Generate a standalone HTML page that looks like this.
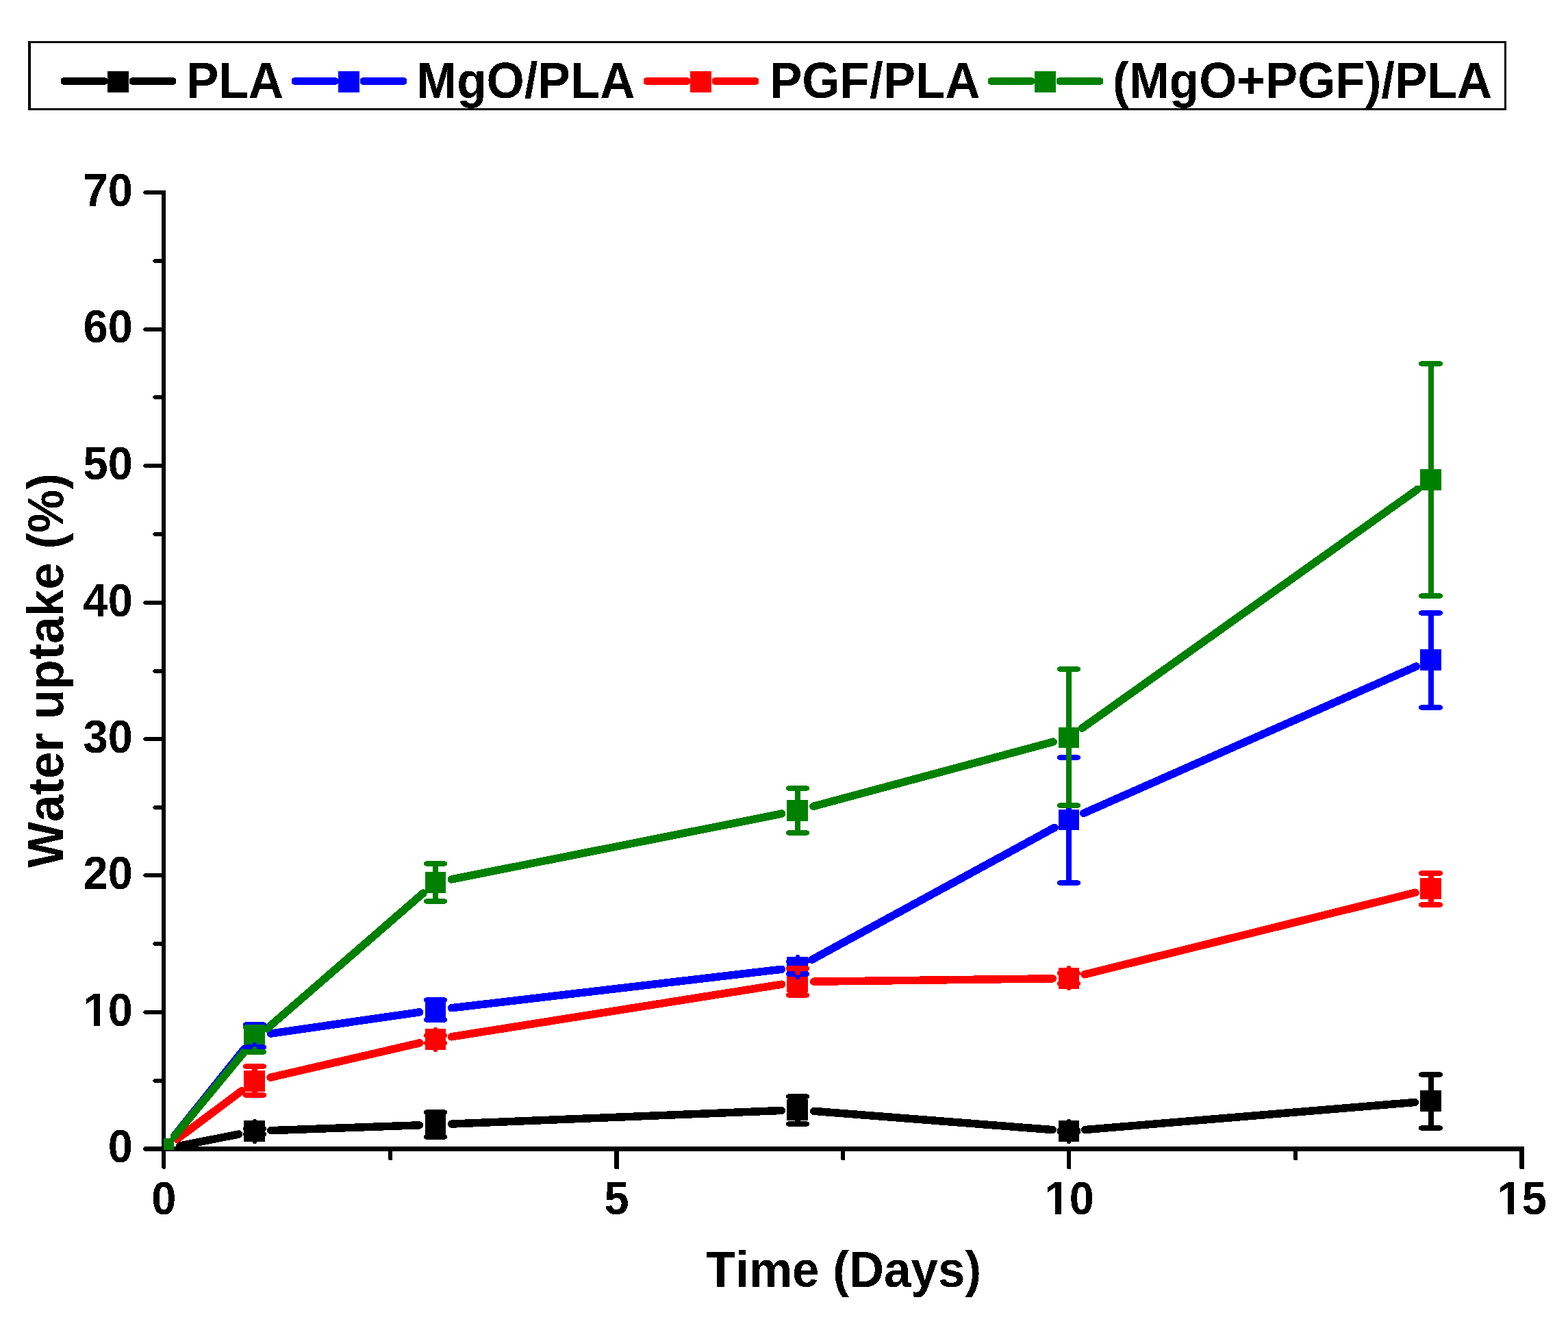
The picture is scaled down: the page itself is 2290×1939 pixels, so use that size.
<!DOCTYPE html>
<html lang="en"><head><meta charset="utf-8"><title>Water uptake (%) vs Time (Days)</title>
<style>html,body{margin:0;padding:0;background:#fff}body{width:2290px;height:1939px;overflow:hidden}svg{display:block}text{font-family:"Liberation Sans",Arial,Helvetica,sans-serif;font-weight:bold;fill:#000;font-kerning:none;font-variant-ligatures:none}</style></head><body>
<svg width="2290" height="1939" viewBox="0 0 2290 1939" shape-rendering="crispEdges">
<rect width="2290" height="1939" fill="#fff"/>
<defs><clipPath id="plot"><rect x="239" y="0" width="2051" height="1679"/></clipPath><filter id="crisp" x="0" y="0" width="2290" height="1939" filterUnits="userSpaceOnUse" color-interpolation-filters="sRGB"><feComponentTransfer><feFuncA type="discrete" tableValues="0 1"/></feComponentTransfer></filter></defs>
<g fill="#000">
<rect x="236" y="278" width="6" height="1410"/>
<path d="M230 1674 H2225 L2226 1675 V1681 H230 Z"/>
<path d="M211 278 H239 V284 H211 L209 282 V280 Z"/>
<path d="M225 378 H239 V384 H225 L223 382 V380 Z"/>
<path d="M211 478 H239 V484 H211 L209 482 V480 Z"/>
<path d="M225 577 H239 V583 H225 L223 581 V579 Z"/>
<path d="M211 677 H239 V683 H211 L209 681 V679 Z"/>
<path d="M225 777 H239 V783 H225 L223 781 V779 Z"/>
<path d="M211 877 H239 V883 H211 L209 881 V879 Z"/>
<path d="M225 977 H239 V983 H225 L223 981 V979 Z"/>
<path d="M211 1076 H239 V1082 H211 L209 1080 V1078 Z"/>
<path d="M225 1176 H239 V1182 H225 L223 1180 V1178 Z"/>
<path d="M211 1275 H239 V1281 H211 L209 1279 V1277 Z"/>
<path d="M225 1375 H239 V1381 H225 L223 1379 V1377 Z"/>
<path d="M211 1475 H239 V1481 H211 L209 1479 V1477 Z"/>
<path d="M225 1575 H239 V1581 H225 L223 1579 V1577 Z"/>
<path d="M211 1674 H239 V1681 H211 L209 1679 V1676 Z"/>
<path d="M236 1680 V1705 L238 1707 H240 L242 1705 V1680 Z"/>
<path d="M567 1676 V1693 L568 1694 H572 L573 1693 V1676 Z"/>
<path d="M897 1676 V1706 L898 1707 H903 L904 1706 V1676 Z"/>
<path d="M1228 1676 V1693 L1229 1694 H1233 L1234 1693 V1676 Z"/>
<path d="M1558 1676 V1706 L1559 1707 H1563 L1564 1706 V1676 Z"/>
<path d="M1889 1676 V1693 L1890 1694 H1894 L1895 1693 V1676 Z"/>
<path d="M2219 1676 V1706 L2220 1707 H2225 L2226 1706 V1676 Z"/>
</g>
<g clip-path="url(#plot)">
<g stroke="#000000" stroke-width="11.5" stroke-linecap="round" fill="none">
<line x1="262.81" y1="1672.93" x2="348.69" y2="1656.07"/>
<line x1="395.73" y1="1650.65" x2="612.27" y2="1642.85"/>
<line x1="659.73" y1="1641.04" x2="1141.27" y2="1621.46"/>
<line x1="1188.68" y1="1622.35" x2="1537.32" y2="1649.65"/>
<line x1="1584.67" y1="1649.53" x2="2066.33" y2="1609.47"/>
</g>
<g fill="#000000">
<rect x="356" y="1636" width="31" height="31"/>
<rect x="621" y="1627" width="30" height="30"/>
<rect x="1149" y="1605" width="31" height="31"/>
<rect x="1546" y="1636" width="30" height="31"/>
<rect x="2074" y="1592" width="31" height="31"/>
</g>
<g stroke="#0000ff" stroke-width="11.5" stroke-linecap="round" fill="none">
<line x1="254.37" y1="1658.98" x2="357.13" y2="1531.02"/>
<line x1="395.51" y1="1509.12" x2="612.49" y2="1477.88"/>
<line x1="659.59" y1="1471.74" x2="1141.41" y2="1415.26"/>
<line x1="1185.86" y1="1401.15" x2="1540.14" y2="1208.35"/>
<line x1="1582.73" y1="1187.41" x2="2068.27" y2="973.09"/>
</g>
<g fill="#0000ff">
<rect x="356" y="1497" width="31" height="31"/>
<rect x="621" y="1459" width="30" height="31"/>
<rect x="1149" y="1397" width="31" height="31"/>
<rect x="1546" y="1182" width="30" height="30"/>
<rect x="2074" y="948" width="31" height="31"/>
</g>
<g stroke="#ff0000" stroke-width="11.5" stroke-linecap="round" fill="none">
<line x1="258.53" y1="1663.28" x2="352.97" y2="1592.72"/>
<line x1="395.14" y1="1573.15" x2="612.86" y2="1522.85"/>
<line x1="659.46" y1="1513.78" x2="1141.54" y2="1437.22"/>
<line x1="1188.75" y1="1433.2" x2="1537.25" y2="1428.8"/>
<line x1="1584.05" y1="1422.79" x2="2066.95" y2="1303.21"/>
</g>
<g fill="#ff0000">
<rect x="356" y="1563" width="31" height="31"/>
<rect x="621" y="1502" width="30" height="31"/>
<rect x="1149" y="1418" width="31" height="31"/>
<rect x="1546" y="1413" width="30" height="31"/>
<rect x="2074" y="1282" width="31" height="31"/>
</g>
<g stroke="#008000" stroke-width="11.5" stroke-linecap="round" fill="none">
<line x1="254.65" y1="1659.21" x2="356.85" y2="1535.79"/>
<line x1="389.94" y1="1501.94" x2="618.06" y2="1304.06"/>
<line x1="659.3" y1="1283.88" x2="1141.7" y2="1188.12"/>
<line x1="1187.94" y1="1177.33" x2="1538.06" y2="1083.17"/>
<line x1="1580.35" y1="1063.23" x2="2070.65" y2="714.27"/>
</g>
<g fill="#008000">
<rect x="223" y="1662" width="31" height="31"/>
<rect x="356" y="1502" width="31" height="31"/>
<rect x="621" y="1273" width="30" height="31"/>
<rect x="1149" y="1168" width="31" height="31"/>
<rect x="1546" y="1062" width="30" height="30"/>
<rect x="2074" y="685" width="31" height="31"/>
</g>
<g fill="#000000">
<path d="M368 1637V1649H369V1651H370V1652H374V1651H375V1649H376V1637H375V1635H374V1634H370V1635H369V1637Z"/>
<path d="M368 1655V1667H369V1669H370V1670H374V1669H375V1667H376V1655H375V1653H374V1652H370V1653H369V1655Z"/>
<path d="M358 1644H386V1645H388V1646H389V1650H388V1651H386V1652H358V1651H356V1650H355V1646H356V1645H358Z"/>
<path d="M358 1652H386V1653H388V1654H389V1658H388V1659H386V1660H358V1659H356V1658H355V1654H356V1653H358Z"/>
<path d="M632 1623V1629H633V1631H634V1632H638V1631H639V1629H640V1623H639V1621H638V1620H634V1621H633V1623Z"/>
<path d="M632 1655V1661H633V1663H634V1664H638V1663H639V1661H640V1655H639V1653H638V1652H634V1653H633V1655Z"/>
<path d="M622 1620H650V1621H652V1622H653V1626H652V1627H650V1628H622V1627H620V1626H619V1622H620V1621H622Z"/>
<path d="M622 1656H650V1657H652V1658H653V1662H652V1663H650V1664H622V1663H620V1662H619V1658H620V1657H622Z"/>
<path d="M1161 1600V1607H1162V1609H1163V1610H1167V1609H1168V1607H1169V1600H1168V1598H1167V1597H1163V1598H1162V1600Z"/>
<path d="M1161 1633V1642H1162V1644H1163V1645H1167V1644H1168V1642H1169V1633H1168V1631H1167V1630H1163V1631H1162V1633Z"/>
<path d="M1151 1597H1179V1598H1181V1599H1182V1603H1181V1604H1179V1605H1151V1604H1149V1603H1148V1599H1149V1598H1151Z"/>
<path d="M1151 1637H1179V1638H1181V1639H1182V1643H1181V1644H1179V1645H1151V1644H1149V1643H1148V1639H1149V1638H1151Z"/>
<path d="M1557 1637V1651H1558V1653H1559V1654H1563V1653H1564V1651H1565V1637H1564V1635H1563V1634H1559V1635H1558V1637Z"/>
<path d="M1557 1652V1667H1558V1669H1559V1670H1563V1669H1564V1667H1565V1652H1564V1650H1563V1649H1559V1650H1558V1652Z"/>
<path d="M1547 1646H1575V1647H1577V1648H1578V1652H1577V1653H1575V1654H1547V1653H1545V1652H1544V1648H1545V1647H1547Z"/>
<path d="M1547 1649H1575V1650H1577V1651H1578V1655H1577V1656H1575V1657H1547V1656H1545V1655H1544V1651H1545V1650H1547Z"/>
<path d="M2086 1568V1595H2087V1597H2088V1598H2092V1597H2093V1595H2094V1568H2093V1566H2092V1565H2088V1566H2087V1568Z"/>
<path d="M2086 1621V1648H2087V1650H2088V1651H2092V1650H2093V1648H2094V1621H2093V1619H2092V1618H2088V1619H2087V1621Z"/>
<path d="M2075 1565H2104V1566H2106V1567H2107V1571H2106V1572H2104V1573H2075V1572H2073V1571H2072V1567H2073V1566H2075Z"/>
<path d="M2075 1643H2104V1644H2106V1645H2107V1649H2106V1650H2104V1651H2075V1650H2073V1649H2072V1645H2073V1644H2075Z"/>
</g>
<g fill="#0000ff">
<path d="M368 1495V1499H369V1501H370V1502H374V1501H375V1499H376V1495H375V1493H374V1492H370V1493H369V1495Z"/>
<path d="M368 1525V1530H369V1532H370V1533H374V1532H375V1530H376V1525H375V1523H374V1522H370V1523H369V1525Z"/>
<path d="M358 1492H386V1493H388V1494H389V1498H388V1499H386V1500H358V1499H356V1498H355V1494H356V1493H358Z"/>
<path d="M358 1525H386V1526H388V1527H389V1531H388V1532H386V1533H358V1532H356V1531H355V1527H356V1526H358Z"/>
<path d="M632 1459V1461H633V1463H634V1464H638V1463H639V1461H640V1459H639V1457H638V1456H634V1457H633V1459Z"/>
<path d="M632 1487V1490H633V1492H634V1493H638V1492H639V1490H640V1487H639V1485H638V1484H634V1485H633V1487Z"/>
<path d="M622 1456H650V1457H652V1458H653V1462H652V1463H650V1464H622V1463H620V1462H619V1458H620V1457H622Z"/>
<path d="M622 1485H650V1486H652V1487H653V1491H652V1492H650V1493H622V1492H620V1491H619V1487H620V1486H622Z"/>
<path d="M1161 1397V1405H1162V1407H1163V1408H1167V1407H1168V1405H1169V1397H1168V1395H1167V1394H1163V1395H1162V1397Z"/>
<path d="M1161 1421V1427H1162V1429H1163V1430H1167V1429H1168V1427H1169V1421H1168V1419H1167V1418H1163V1419H1162V1421Z"/>
<path d="M1151 1400H1179V1401H1181V1402H1182V1406H1181V1407H1179V1408H1151V1407H1149V1406H1148V1402H1149V1401H1151Z"/>
<path d="M1151 1418H1179V1419H1181V1420H1182V1424H1181V1425H1179V1426H1151V1425H1149V1424H1148V1420H1149V1419H1151Z"/>
<path d="M1557 1105V1184H1558V1186H1559V1187H1563V1186H1564V1184H1565V1105H1564V1103H1563V1102H1559V1103H1558V1105Z"/>
<path d="M1557 1210V1290H1558V1292H1559V1293H1563V1292H1564V1290H1565V1210H1564V1208H1563V1207H1559V1208H1558V1210Z"/>
<path d="M1547 1102H1575V1103H1577V1104H1578V1108H1577V1109H1575V1110H1547V1109H1545V1108H1544V1104H1545V1103H1547Z"/>
<path d="M1547 1285H1575V1286H1577V1287H1578V1291H1577V1292H1575V1293H1547V1292H1545V1291H1544V1287H1545V1286H1547Z"/>
<path d="M2086 894V951H2087V953H2088V954H2092V953H2093V951H2094V894H2093V892H2092V891H2088V892H2087V894Z"/>
<path d="M2086 977V1034H2087V1036H2088V1037H2092V1036H2093V1034H2094V977H2093V975H2092V974H2088V975H2087V977Z"/>
<path d="M2075 891H2104V892H2106V893H2107V897H2106V898H2104V899H2075V898H2073V897H2072V893H2073V892H2075Z"/>
<path d="M2075 1029H2104V1030H2106V1031H2107V1035H2106V1036H2104V1037H2075V1036H2073V1035H2072V1031H2073V1030H2075Z"/>
</g>
<g fill="#ff0000">
<path d="M368 1556V1565H369V1567H370V1568H374V1567H375V1565H376V1556H375V1554H374V1553H370V1554H369V1556Z"/>
<path d="M368 1591V1600H369V1602H370V1603H374V1602H375V1600H376V1591H375V1589H374V1588H370V1589H369V1591Z"/>
<path d="M358 1553H386V1554H388V1555H389V1559H388V1560H386V1561H358V1560H356V1559H355V1555H356V1554H358Z"/>
<path d="M358 1595H386V1596H388V1597H389V1601H388V1602H386V1603H358V1602H356V1601H355V1597H356V1596H358Z"/>
<path d="M632 1503V1513H633V1515H634V1516H638V1515H639V1513H640V1503H639V1501H638V1500H634V1501H633V1503Z"/>
<path d="M632 1522V1533H633V1535H634V1536H638V1535H639V1533H640V1522H639V1520H638V1519H634V1520H633V1522Z"/>
<path d="M622 1508H650V1509H652V1510H653V1514H652V1515H650V1516H622V1515H620V1514H619V1510H620V1509H622Z"/>
<path d="M622 1519H650V1520H652V1521H653V1525H652V1526H650V1527H622V1526H620V1525H619V1521H620V1520H622Z"/>
<path d="M1161 1413V1421H1162V1423H1163V1424H1167V1423H1168V1421H1169V1413H1168V1411H1167V1410H1163V1411H1162V1413Z"/>
<path d="M1161 1447V1454H1162V1456H1163V1457H1167V1456H1168V1454H1169V1447H1168V1445H1167V1444H1163V1445H1162V1447Z"/>
<path d="M1151 1410H1179V1411H1181V1412H1182V1416H1181V1417H1179V1418H1151V1417H1149V1416H1148V1412H1149V1411H1151Z"/>
<path d="M1151 1449H1179V1450H1181V1451H1182V1455H1181V1456H1179V1457H1151V1456H1149V1455H1148V1451H1149V1450H1151Z"/>
<path d="M1557 1413V1422H1558V1424H1559V1425H1563V1424H1564V1422H1565V1413H1564V1411H1563V1410H1559V1411H1558V1413Z"/>
<path d="M1557 1435V1443H1558V1445H1559V1446H1563V1445H1564V1443H1565V1435H1564V1433H1563V1432H1559V1433H1558V1435Z"/>
<path d="M1547 1417H1575V1418H1577V1419H1578V1423H1577V1424H1575V1425H1547V1424H1545V1423H1544V1419H1545V1418H1547Z"/>
<path d="M1547 1432H1575V1433H1577V1434H1578V1438H1577V1439H1575V1440H1547V1439H1545V1438H1544V1434H1545V1433H1547Z"/>
<path d="M2086 1274V1285H2087V1287H2088V1288H2092V1287H2093V1285H2094V1274H2093V1272H2092V1271H2088V1272H2087V1274Z"/>
<path d="M2086 1311V1322H2087V1324H2088V1325H2092V1324H2093V1322H2094V1311H2093V1309H2092V1308H2088V1309H2087V1311Z"/>
<path d="M2075 1271H2104V1272H2106V1273H2107V1277H2106V1278H2104V1279H2075V1278H2073V1277H2072V1273H2073V1272H2075Z"/>
<path d="M2075 1317H2104V1318H2106V1319H2107V1323H2106V1324H2104V1325H2075V1324H2073V1323H2072V1319H2073V1318H2075Z"/>
</g>
<g fill="#008000">
<path d="M368 1499V1505H369V1507H370V1508H374V1507H375V1505H376V1499H375V1497H374V1496H370V1497H369V1499Z"/>
<path d="M368 1531V1537H369V1539H370V1540H374V1539H375V1537H376V1531H375V1529H374V1528H370V1529H369V1531Z"/>
<path d="M358 1496H386V1497H388V1498H389V1502H388V1503H386V1504H358V1503H356V1502H355V1498H356V1497H358Z"/>
<path d="M358 1532H386V1533H388V1534H389V1538H388V1539H386V1540H358V1539H356V1538H355V1534H356V1533H358Z"/>
<path d="M632 1260V1275H633V1277H634V1278H638V1277H639V1275H640V1260H639V1258H638V1257H634V1258H633V1260Z"/>
<path d="M632 1301V1317H633V1319H634V1320H638V1319H639V1317H640V1301H639V1299H638V1298H634V1299H633V1301Z"/>
<path d="M622 1257H650V1258H652V1259H653V1263H652V1264H650V1265H622V1264H620V1263H619V1259H620V1258H622Z"/>
<path d="M622 1312H650V1313H652V1314H653V1318H652V1319H650V1320H622V1319H620V1318H619V1314H620V1313H622Z"/>
<path d="M1161 1150V1171H1162V1173H1163V1174H1167V1173H1168V1171H1169V1150H1168V1148H1167V1147H1163V1148H1162V1150Z"/>
<path d="M1161 1197V1217H1162V1219H1163V1220H1167V1219H1168V1217H1169V1197H1168V1195H1167V1194H1163V1195H1162V1197Z"/>
<path d="M1151 1147H1179V1148H1181V1149H1182V1153H1181V1154H1179V1155H1151V1154H1149V1153H1148V1149H1149V1148H1151Z"/>
<path d="M1151 1212H1179V1213H1181V1214H1182V1218H1181V1219H1179V1220H1151V1219H1149V1218H1148V1214H1149V1213H1151Z"/>
<path d="M1557 976V1064H1558V1066H1559V1067H1563V1066H1564V1064H1565V976H1564V974H1563V973H1559V974H1558V976Z"/>
<path d="M1557 1090V1177H1558V1179H1559V1180H1563V1179H1564V1177H1565V1090H1564V1088H1563V1087H1559V1088H1558V1090Z"/>
<path d="M1547 973H1575V974H1577V975H1578V979H1577V980H1575V981H1547V980H1545V979H1544V975H1545V974H1547Z"/>
<path d="M1547 1172H1575V1173H1577V1174H1578V1178H1577V1179H1575V1180H1547V1179H1545V1178H1544V1174H1545V1173H1547Z"/>
<path d="M2086 530V687H2087V689H2088V690H2092V689H2093V687H2094V530H2093V528H2092V527H2088V528H2087V530Z"/>
<path d="M2086 713V871H2087V873H2088V874H2092V873H2093V871H2094V713H2093V711H2092V710H2088V711H2087V713Z"/>
<path d="M2075 527H2104V528H2106V529H2107V533H2106V534H2104V535H2075V534H2073V533H2072V529H2073V528H2075Z"/>
<path d="M2075 866H2104V867H2106V868H2107V872H2106V873H2104V874H2075V873H2073V872H2072V868H2073V867H2075Z"/>
</g>
</g>
<g filter="url(#crisp)">
<text transform="translate(193.8 300.8) scale(1 1.0405)" font-size="65" text-anchor="end">70</text>
<text transform="translate(193.8 500.3) scale(1 1.0405)" font-size="65" text-anchor="end">60</text>
<text transform="translate(193.8 699.8) scale(1 1.0405)" font-size="65" text-anchor="end">50</text>
<text transform="translate(193.8 900.3) scale(1 1.0405)" font-size="65" text-anchor="end">40</text>
<text transform="translate(193.8 1098.8) scale(1 1.0405)" font-size="65" text-anchor="end">30</text>
<text transform="translate(193.8 1298.3) scale(1 1.0405)" font-size="65" text-anchor="end">20</text>
<text transform="translate(193.8 1497.8) scale(1 1.0405)" font-size="65" text-anchor="end">10</text>
<text transform="translate(193.8 1697.3) scale(1 1.0405)" font-size="65" text-anchor="end">0</text>
<text transform="translate(239.3 1773) scale(1 1.0405)" font-size="65" text-anchor="middle">0</text>
<text transform="translate(900.47 1773) scale(1 1.0405)" font-size="65" text-anchor="middle">5</text>
<text transform="translate(1561.64 1773) scale(1 1.0405)" font-size="65" text-anchor="middle">10</text>
<text transform="translate(2222.81 1773) scale(1 1.0405)" font-size="65" text-anchor="middle">15</text>
<text transform="translate(1030.8 1879) scale(1 1.0405)" font-size="71" text-anchor="start">Time (Days)</text>
<text transform="translate(92.1 1267) rotate(-90) scale(1 1.0405)" font-size="71" text-anchor="start">Water uptake (%)</text>
</g>
<g><rect x="124.5" y="1490.2" width="12.2" height="9" fill="#fff"/><rect x="145.9" y="1490.2" width="11" height="9" fill="#fff"/><rect x="1528.45" y="1765.4" width="12.2" height="9" fill="#fff"/><rect x="1549.85" y="1765.4" width="11" height="9" fill="#fff"/><rect x="2189.65" y="1765.4" width="12.2" height="9" fill="#fff"/><rect x="2211.05" y="1765.4" width="11" height="9" fill="#fff"/></g>
<path d="M41 60H2200V161H41Z M45 63V158H2197V63Z" fill="#000" fill-rule="evenodd"/>
<g fill="#000000"><path d="M92 113H154V114H156V115H157V122H156V123H154V124H92V123H90V122H89V115H90V114H92Z"/><path d="M192 113H254V114H256V115H257V122H256V123H254V124H192V123H190V122H189V115H190V114H192Z"/><rect x="157" y="104" width="31" height="31"/></g>
<g fill="#0000ff"><path d="M429 113H491V114H493V115H494V122H493V123H491V124H429V123H427V122H426V115H427V114H429Z"/><path d="M529 113H591V114H593V115H594V122H593V123H591V124H529V123H527V122H526V115H527V114H529Z"/><rect x="494" y="104" width="31" height="31"/></g>
<g fill="#ff0000"><path d="M943 113H1005V114H1007V115H1008V122H1007V123H1005V124H943V123H941V122H940V115H941V114H943Z"/><path d="M1043 113H1105V114H1107V115H1108V122H1107V123H1105V124H1043V123H1041V122H1040V115H1041V114H1043Z"/><rect x="1008" y="104" width="31" height="31"/></g>
<g fill="#008000"><path d="M1446 113H1508V114H1510V115H1511V122H1510V123H1508V124H1446V123H1444V122H1443V115H1444V114H1446Z"/><path d="M1546 113H1608V114H1610V115H1611V122H1610V123H1608V124H1546V123H1544V122H1543V115H1544V114H1546Z"/><rect x="1511" y="104" width="31" height="31"/></g>
<g filter="url(#crisp)"><text transform="translate(272.1 143) scale(1 1.0405)" font-size="71" text-anchor="start">PLA</text><text transform="translate(608 143) scale(1 1.0405)" font-size="71" text-anchor="start">MgO/PLA</text><text transform="translate(1124 143) scale(1 1.0405)" font-size="71" text-anchor="start">PGF/PLA</text><text transform="translate(1625 143) scale(1 1.0405)" font-size="71" text-anchor="start">(MgO+PGF)/PLA</text></g>
</svg></body></html>
